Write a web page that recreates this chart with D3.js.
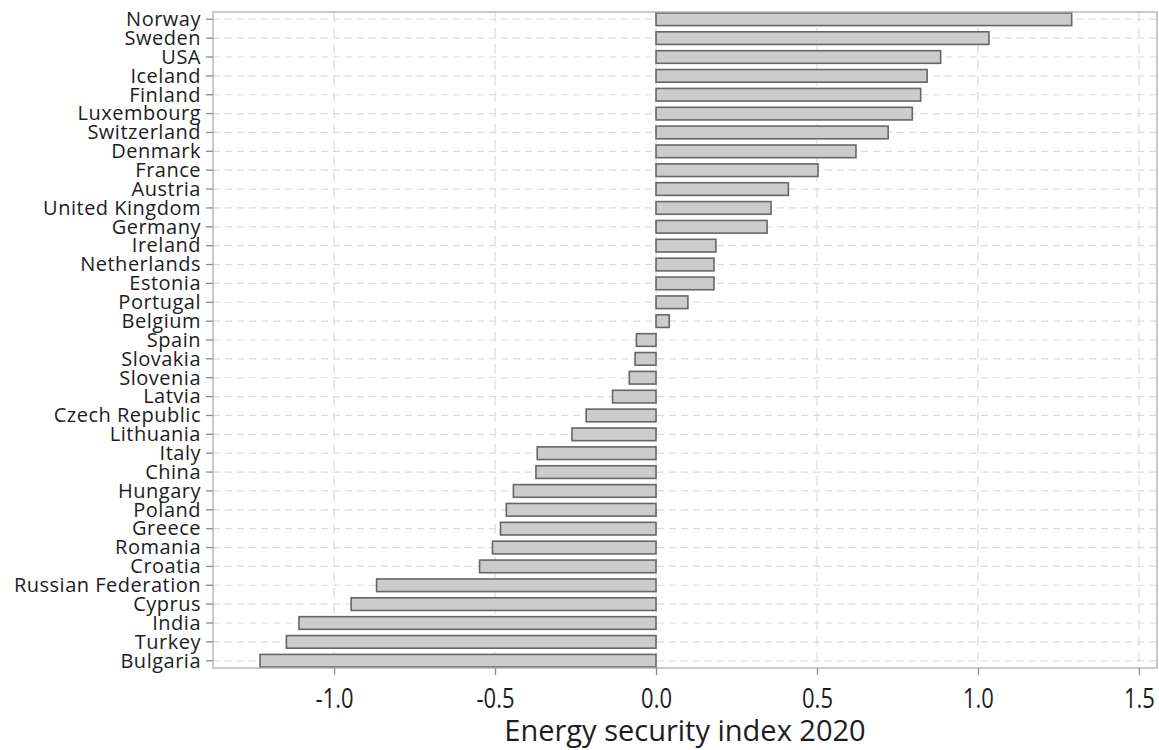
<!DOCTYPE html>
<html>
<head>
<meta charset="utf-8">
<script src="https://cdn.jsdelivr.net/npm/d3@7"></script>
<style>
  html, body { margin: 0; padding: 0; background: #fff; }
  .chart-bar-label { font-family: "Open Sans", sans-serif; fill: #1c1c24; }
</style>
</head>
<body>
<svg id="chart" width="1159" height="750"></svg>
<script>
// Data, top to bottom
const countries = [
  'Norway', 'Sweden', 'USA', 'Iceland', 'Finland', 'Luxembourg', 'Switzerland',
  'Denmark', 'France', 'Austria', 'United Kingdom', 'Germany', 'Ireland',
  'Netherlands', 'Estonia', 'Portugal', 'Belgium', 'Spain', 'Slovakia', 'Slovenia',
  'Latvia', 'Czech Republic', 'Lithuania', 'Italy', 'China', 'Hungary', 'Poland',
  'Greece', 'Romania', 'Croatia', 'Russian Federation', 'Cyprus', 'India', 'Turkey',
  'Bulgaria'
];
const indexValues = [
  1.291, 1.034, 0.884, 0.842, 0.822, 0.796, 0.721,
  0.621, 0.503, 0.411, 0.357, 0.345, 0.186,
  0.180, 0.180, 0.099, 0.041, -0.061, -0.065, -0.083,
  -0.135, -0.217, -0.261, -0.369, -0.373, -0.443, -0.465,
  -0.483, -0.508, -0.548, -0.868, -0.947, -1.109, -1.148,
  -1.230
];
const xTicks = [-1.0, -0.5, 0.0, 0.5, 1.0, 1.5];
const axisTitle = 'Energy security index 2020';

const margin = { top: 12, right: 2, bottom: 82, left: 213 };
const svg = d3.select('#chart');
const width = +svg.attr('width') - margin.left - margin.right;
const height = +svg.attr('height') - margin.top - margin.bottom;

const x = d3.scaleLinear().domain([-1.376, 1.556]).range([0, width]);
const y = d3.scaleBand().domain(countries).range([0, height])
  .paddingInner(0.33).paddingOuter(0.05);

const g = svg.append('g').attr('transform', `translate(${margin.left},${margin.top})`);

// Grid lines (dashed)
g.append('g').selectAll('line.hgrid')
  .data(countries)
  .enter()
  .append('line')
  .attr('x1', 0).attr('x2', width)
  .attr('y1', d => y(d) + y.bandwidth() / 2)
  .attr('y2', d => y(d) + y.bandwidth() / 2)
  .attr('stroke', '#dcdcdc').attr('stroke-width', 1.2)
  .attr('stroke-dasharray', '7,5');

g.append('g').selectAll('line.vgrid')
  .data(xTicks)
  .enter()
  .append('line')
  .attr('x1', d => x(d)).attr('x2', d => x(d))
  .attr('y1', 0).attr('y2', height)
  .attr('stroke', '#dcdcdc').attr('stroke-width', 1.2)
  .attr('stroke-dasharray', '10,6');

// Bars
g.append('g').selectAll('rect')
  .data(countries)
  .enter()
  .append('rect')
  .attr('x', (d, i) => x(Math.min(0, indexValues[i])))
  .attr('y', d => y(d))
  .attr('width', (d, i) => Math.abs(x(indexValues[i]) - x(0)))
  .attr('height', y.bandwidth())
  .attr('fill', '#cccccc')
  .attr('stroke', '#666666')
  .attr('stroke-width', 1.6);

// Frame
g.append('rect')
  .attr('x', 0).attr('y', 0)
  .attr('width', width).attr('height', height)
  .attr('fill', 'none')
  .attr('stroke', '#adadad')
  .attr('stroke-width', 1.3);

// Y axis
const yAxis = g.append('g')
  .call(d3.axisLeft(y).tickSize(7).tickPadding(5));
yAxis.select('.domain').remove();
yAxis.selectAll('.tick line').attr('stroke', '#8c8c8c').attr('stroke-width', 1.3);
yAxis.selectAll('.tick text')
  .attr('class', 'chart-bar-label')
  .style('font-size', '20px')
  .style('letter-spacing', '0.5px')
  .attr('dy', '0.34em');

// X axis: tick labels in the reference are a bit taller than wide, so stretch them
const xAxis = g.append('g')
  .attr('transform', `translate(0,${height})`)
  .call(d3.axisBottom(x).tickValues(xTicks).tickSize(7).tickPadding(6));
xAxis.select('.domain').remove();
xAxis.selectAll('.tick line').attr('stroke', '#8c8c8c').attr('stroke-width', 1.3);
xAxis.selectAll('.tick text')
  .attr('class', 'chart-bar-label')
  .style('font-size', '22px')
  .attr('y', 0)
  .attr('dy', 0)
  .attr('transform', 'translate(0,40) scale(1,1.2)')
  .text(d => d3.format('.1f')(d).replace('−', '-'));

// Axis title
g.append('text')
  .attr('class', 'chart-bar-label')
  .attr('x', width / 2)
  .attr('y', height + 73)
  .attr('text-anchor', 'middle')
  .style('font-size', '29px')
  .text(axisTitle);
</script>
</body>
</html>
